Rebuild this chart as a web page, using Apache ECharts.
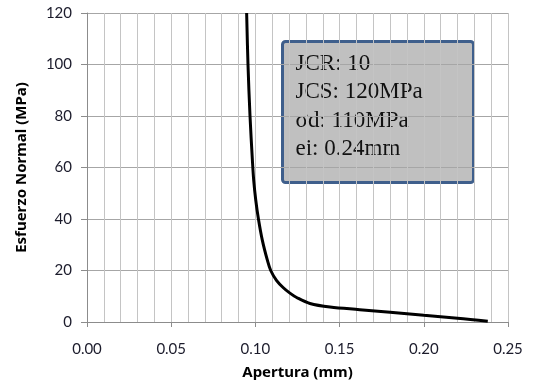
<!DOCTYPE html>
<html>
<head>
<meta charset="utf-8">
<script src="https://cdn.jsdelivr.net/npm/echarts@6/dist/echarts.min.js"></script>
<style>
  html, body { margin: 0; padding: 0; background: #fff; }
  #chart { width: 535px; height: 381px; }
</style>
</head>
<body>
<div id="chart"></div>
<script>
// Closure curve: normal stress vs. joint aperture
const apertura = [0.0948, 0.0956, 0.0968, 0.0982, 0.0990, 0.1002, 0.1018, 0.1041, 0.1071, 0.1091, 0.1125, 0.1166, 0.1205, 0.1245, 0.1324, 0.1443, 0.1620, 0.1800, 0.2000, 0.2200, 0.2380];
const esfuerzo = [120, 100, 80, 63, 55, 47.4, 40, 31.8, 24, 20, 16.2, 13.3, 11.2, 9.5, 7.2, 5.8, 4.8, 3.8, 2.6, 1.5, 0.3];

const xTicks = { min: 0, max: 0.25, step: 0.05 };
const yTicks = { min: 0, max: 120, step: 20 };

const xTitle = 'Apertura (mm)';
const yTitle = 'Esfuerzo Normal (MPa)';
const paramLines = ['JCR: 10', 'JCS: 120MPa', 'σd: 110MPa', 'ei: 0.24mm'];

const curve = apertura.map((x, i) => [x, esfuerzo[i]]);

const chart = echarts.init(document.getElementById('chart'));
const tickFont = { fontFamily: 'Lato', fontSize: 15, color: '#1c1c2c' };
const titleFont = { fontFamily: 'Noto Sans', fontSize: 15, fontWeight: 'bold', color: '#000', lineHeight: 18 };

chart.setOption({
  animation: false,
  grid: { left: 87, right: 27, top: 13, bottom: 59, outerBoundsMode: 'none' },
  xAxis: {
    type: 'value',
    min: xTicks.min, max: xTicks.max, interval: xTicks.step,
    name: xTitle, nameLocation: 'middle', nameGap: 42,
    nameTextStyle: titleFont,
    axisLine: { show: true, lineStyle: { color: '#8c8c8c', width: 1 } },
    axisTick: { show: true, length: 5, lineStyle: { color: '#8c8c8c' } },
    axisLabel: Object.assign({ margin: 20, formatter: v => v.toFixed(2) }, tickFont),
    splitLine: { show: true, lineStyle: { color: '#c4c4c4', width: 1 } },
    minorTick: { show: false, splitNumber: 5 },
    minorSplitLine: { show: true, lineStyle: { color: '#c4c4c4', width: 1 } }
  },
  yAxis: {
    type: 'value',
    min: yTicks.min, max: yTicks.max, interval: yTicks.step,
    name: yTitle, nameLocation: 'middle', nameGap: 56, nameRotate: 90,
    nameTextStyle: titleFont,
    axisLine: { show: true, lineStyle: { color: '#8c8c8c', width: 1 } },
    axisTick: { show: true, length: 6, lineStyle: { color: '#8c8c8c' } },
    axisLabel: Object.assign({ margin: 15 }, tickFont),
    splitLine: { show: true, lineStyle: { color: '#a6a6a6', width: 1 } }
  },
  series: [{
    type: 'line',
    data: curve,
    smooth: 0.35,
    showSymbol: false,
    lineStyle: { color: '#000', width: 3 },
    z: 3
  }],
  graphic: [{
    type: 'group',
    left: 281, top: 40,
    z: 10,
    children: [{
      type: 'rect',
      shape: { x: 0, y: 0, width: 191, height: 141, r: 3 },
      style: { fill: '#c0c0c0', stroke: '#3f5f8c', lineWidth: 3 }
    }, {
      type: 'text',
      left: 13, top: 8,
      style: {
        text: paramLines.join('\n'),
        font: '23px "Liberation Serif"',
        lineHeight: 28.5,
        fill: '#111'
      }
    }]
  }]
});
</script>
</body>
</html>
